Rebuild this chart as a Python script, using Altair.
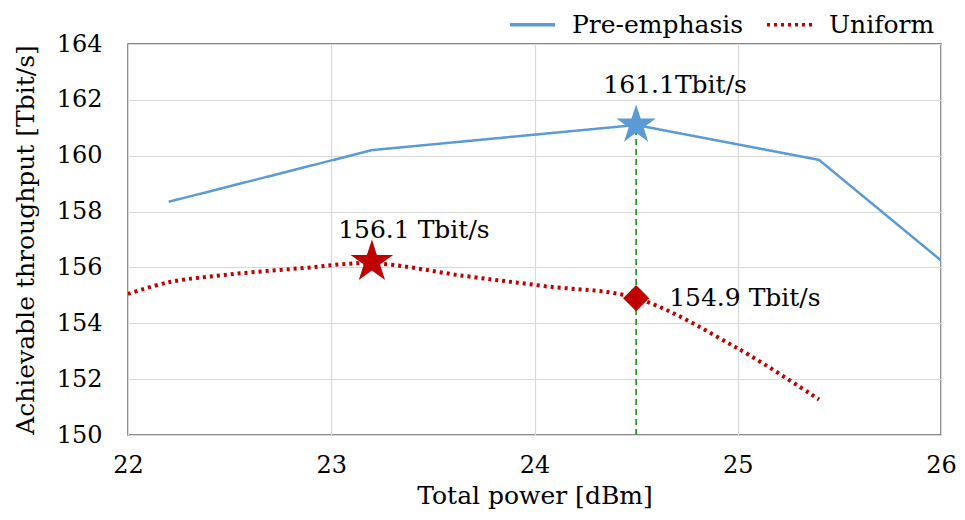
import altair as alt
import pandas as pd

# ---- data ----
series_names = ["Pre-emphasis", "Uniform"]
pre_x = [22.2, 23.2, 24.5, 25.4, 26.0]
pre_y = [158.35, 160.2, 161.1, 159.85, 156.25]
uni_x = [22.0, 22.2, 22.5, 22.85, 23.2, 23.65, 24.05, 24.5, 25.0, 25.4]
uni_y = [155.05, 155.47, 155.75, 155.97, 156.15, 155.7, 155.33, 154.9, 153.1, 151.27]

x_ticks = [22, 23, 24, 25, 26]
y_ticks = [150, 152, 154, 156, 158, 160, 162, 164]

opt_x = [24.5]
pre_peak_y = [161.1]
uni_opt_y = [154.9]
uni_peak_x = [23.2]
uni_peak_y = [156.2]
label_pre = ["161.1Tbit/s"]
label_uni_peak = ["156.1 Tbit/s"]
label_uni_opt = ["154.9 Tbit/s"]

FONT = "DejaVu Serif"
BLUE = "#5b9bd5"
RED = "#c00000"
GREEN = "#2e9a2e"
STAR = ("M0,-1 L0.2245,-0.309 L0.951,-0.309 L0.363,0.118 L0.588,0.809 "
        "L0,0.382 L-0.588,0.809 L-0.363,0.118 L-0.951,-0.309 L-0.2245,-0.309 Z")

pre_df = pd.DataFrame({"x": pre_x, "y": pre_y, "series": series_names[0]})
uni_df = pd.DataFrame({"x": uni_x, "y": uni_y, "series": series_names[1]})

xs = alt.X("x:Q", scale=alt.Scale(domain=[x_ticks[0], x_ticks[-1]], nice=False),
           axis=alt.Axis(values=x_ticks, title="Total power [dBm]", format="d",
                         labelPadding=18, titlePadding=6, labelFlush=False))
ys = alt.Y("y:Q", scale=alt.Scale(domain=[y_ticks[0], y_ticks[-1]], nice=False, zero=False),
           axis=alt.Axis(values=y_ticks, title="Achievable throughput [Tbit/s]", format="d",
                         labelPadding=26, titlePadding=18, labelFlush=False))
color = alt.Color("series:N", scale=alt.Scale(domain=series_names, range=[BLUE, RED]),
                  legend=alt.Legend(title=None, orient="none", direction="horizontal",
                                    legendX=380, legendY=-44, symbolType="stroke",
                                    symbolSize=2025, symbolStrokeWidth=3.5,
                                    labelFont=FONT, labelFontSize=25, labelColor="black",
                                    labelLimit=400, columnPadding=16, labelOffset=15))
dash = alt.StrokeDash("series:N", scale=alt.Scale(domain=series_names, range=[[1, 0], [3, 4]]),
                      legend=None)

pre_line = alt.Chart(pre_df).mark_line(strokeWidth=2.5, clip=True).encode(
    x=xs, y=ys, color=color, strokeDash=dash)
uni_line = alt.Chart(uni_df).mark_line(strokeWidth=4, interpolate="catmull-rom", clip=True).encode(
    x=xs, y=ys, color=color, strokeDash=dash)

rule_df = pd.DataFrame({"x": opt_x, "y0": [y_ticks[0]], "y1": pre_peak_y})
rule = alt.Chart(rule_df).mark_rule(color=GREEN, strokeWidth=1.8, strokeDash=[6, 4]).encode(
    x="x:Q", y="y0:Q", y2="y1:Q")

pre_star_df = pd.DataFrame({"x": opt_x, "y": pre_peak_y, "t": label_pre})
uni_star_df = pd.DataFrame({"x": uni_peak_x, "y": uni_peak_y, "t": label_uni_peak})
uni_dia_df = pd.DataFrame({"x": opt_x, "y": uni_opt_y, "t": label_uni_opt})

pre_star = alt.Chart(pre_star_df).mark_point(shape=STAR, filled=True, opacity=1, size=1700,
                                              color=BLUE).encode(x="x:Q", y="y:Q")
uni_star = alt.Chart(uni_star_df).mark_point(shape=STAR, filled=True, opacity=1, size=2000,
                                              color=RED).encode(x="x:Q", y="y:Q")
uni_dia = alt.Chart(uni_dia_df).mark_point(shape="diamond", filled=True, opacity=1, size=680,
                                            color=RED).encode(x="x:Q", y="y:Q")

txt_pre = alt.Chart(pre_star_df).mark_text(font=FONT, fontSize=25, align="center",
                                            baseline="alphabetic", dx=39, dy=-32,
                                            color="black").encode(x="x:Q", y="y:Q", text="t:N")
txt_uni = alt.Chart(uni_star_df).mark_text(font=FONT, fontSize=25, align="center",
                                            baseline="alphabetic", dx=42, dy=-24,
                                            color="black").encode(x="x:Q", y="y:Q", text="t:N")
txt_dia = alt.Chart(uni_dia_df).mark_text(font=FONT, fontSize=25, align="left",
                                           baseline="alphabetic", dx=33, dy=8,
                                           color="black").encode(x="x:Q", y="y:Q", text="t:N")

chart = alt.layer(pre_line, uni_line, rule, pre_star, uni_star, uni_dia,
                  txt_pre, txt_uni, txt_dia).properties(
    width=813, height=391,
    background="white",
    autosize=alt.AutoSizeParams(type="none"),
    padding={"left": 120, "top": 36, "right": 16, "bottom": 85},
).configure_view(stroke="#666666", strokeWidth=1.5).configure_axis(
    grid=True, gridColor="#d9d9d9", gridWidth=1.2, domain=False, ticks=False,
    labelFont=FONT, labelFontSize=24, labelColor="black",
    titleFont=FONT, titleFontSize=25, titleColor="black", titleFontWeight="normal",
)

chart.save("out.html", embed_options={"renderer": "svg", "actions": False})
